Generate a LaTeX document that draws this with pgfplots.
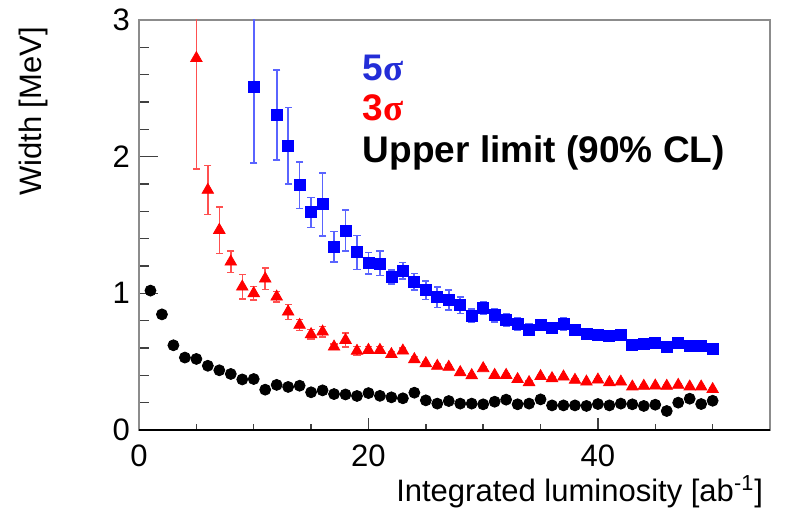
\documentclass[border=0pt]{standalone}
\usepackage{pgfplots}
\pgfplotsset{compat=1.18}
\usepackage{pgfplotstable}
\usepackage{fontspec}
\setmainfont{Liberation Sans}
\newfontfamily\greekfont{Liberation Serif}
\usetikzlibrary{calc}

\definecolor{sigfive}{RGB}{35,45,215}
\definecolor{barblue}{RGB}{90,100,255}
\definecolor{barred}{RGB}{255,80,80}

% 5 sigma discovery width
\pgfplotstableread{
x y ey
10 2.51 0.555
12 2.304 0.33
13 2.08 0.28
14 1.792 0.17
15 1.593 0.11
16 1.651 0.23
17 1.341 0.113
18 1.458 0.15
19 1.30 0.125
20 1.22 0.08
21 1.219 0.09
22 1.119 0.05
23 1.166 0.06
24 1.085 0.06
25 1.022 0.067
26 0.971 0.075
27 0.951 0.072
28 0.912 0.06
29 0.836 0.05
30 0.892 0.045
31 0.839 0.05
32 0.807 0.045
33 0.775 0.045
34 0.734 0.04
35 0.766 0.02
36 0.744 0.02
37 0.775 0.045
38 0.729 0.02
39 0.702 0.015
40 0.695 0.015
41 0.69 0.015
42 0.697 0.015
43 0.622 0.01
44 0.629 0.01
45 0.634 0.01
46 0.609 0.01
47 0.634 0.01
48 0.614 0.01
49 0.614 0.01
50 0.593 0.01
}\fivesigma

% 3 sigma evidence width
\pgfplotstableread{
x y ey
5 2.72 0.81
6 1.756 0.18
7 1.463 0.17
8 1.231 0.08
9 1.048 0.09
10 1.00 0.05
11 1.107 0.08
12 0.975 0.04
13 0.865 0.055
14 0.768 0.04
15 0.70 0.035
16 0.719 0.04
17 0.609 0.02
18 0.658 0.05
19 0.578 0.034
20 0.585 0.025
21 0.585 0.025
22 0.554 0.02
23 0.58 0.02
24 0.517 0.02
25 0.488 0.015
26 0.468 0.015
27 0.461 0.015
28 0.422 0.012
29 0.40 0.012
30 0.451 0.012
31 0.402 0.01
32 0.402 0.01
33 0.371 0.01
34 0.349 0.01
35 0.393 0.01
36 0.378 0.01
37 0.39 0.01
38 0.366 0.01
39 0.353 0.01
40 0.368 0.01
41 0.349 0.01
42 0.353 0.01
43 0.317 0.01
44 0.322 0.01
45 0.324 0.01
46 0.322 0.01
47 0.329 0.01
48 0.317 0.01
49 0.317 0.01
50 0.298 0.01
}\threesigma

% 90% CL upper limit
\pgfplotstableread{
x y
1 1.02
2 0.846
3 0.62
4 0.53
5 0.52
6 0.47
7 0.437
8 0.41
9 0.37
10 0.373
11 0.295
12 0.33
13 0.315
14 0.324
15 0.276
16 0.29
17 0.263
18 0.26
19 0.249
20 0.27
21 0.25
22 0.239
23 0.232
24 0.273
25 0.217
26 0.193
27 0.212
28 0.193
29 0.193
30 0.188
31 0.207
32 0.222
33 0.188
34 0.193
35 0.224
36 0.18
37 0.18
38 0.18
39 0.176
40 0.19
41 0.18
42 0.193
43 0.188
44 0.176
45 0.185
46 0.139
47 0.2
48 0.229
49 0.19
50 0.214
}\upperlimit

\begin{document}
\begin{tikzpicture}
\begin{axis}[
  scale only axis,
  width=315.5pt, height=205pt,
  xmin=0, xmax=55, ymin=0, ymax=3,
  xtick={0,20,40},
  minor xtick={5,10,15,25,30,35,45,50},
  ytick={0,1,2,3},
  minor ytick={0.2,0.4,0.6,0.8,1.2,1.4,1.6,1.8,2.2,2.4,2.6,2.8},
  tick pos=left,
  tick align=inside,
  axis line style={black!45, line width=0.7pt},
  tick style={black!75, line width=0.7pt},
  major tick length=9.5pt, minor tick length=5pt,
  xtick style={/pgfplots/major tick length=6pt, /pgfplots/minor tick length=3pt},
  font=\fontsize{15.5}{18}\selectfont,
  /pgf/number format/assume math mode=true,
  yticklabel style={xshift=-1pt},
  xticklabel style={yshift=-4pt},
  xlabel={Integrated luminosity [ab\textsuperscript{-1}]},
  ylabel={Width [MeV]},
  every axis x label/.style={at={(rel axis cs:1,0)}, anchor=base east, yshift=-35.5pt},
  every axis y label/.style={at={($(rel axis cs:0,1)+(-42pt,0pt)$)}, rotate=90, anchor=south east},
  errcap/.style={only marks, mark=-, mark size=1.8pt, mark options={line width=0.75pt}},
]
\addplot[only marks, mark=*, mark size=2.75pt, black] table[x=x, y=y] {\upperlimit};

% 3 sigma: error bars, caps, then markers
\addplot[draw=none, mark=none, forget plot,
  error bars/.cd, y dir=both, y explicit, error mark=none,
  error bar style={draw=barred, line width=0.75pt}]
  table[x=x, y=y, y error=ey] {\threesigma};
\addplot[errcap, barred, forget plot] table[x=x, y expr=\thisrow{y}+\thisrow{ey}] {\threesigma};
\addplot[errcap, barred, forget plot] table[x=x, y expr=\thisrow{y}-\thisrow{ey}] {\threesigma};
\addplot[only marks, mark=triangle*, mark size=3.3pt, red] table[x=x, y=y] {\threesigma};

% 5 sigma: error bars, caps, then markers
\addplot[draw=none, mark=none, forget plot,
  error bars/.cd, y dir=both, y explicit, error mark=none,
  error bar style={draw=barblue, line width=0.85pt}]
  table[x=x, y=y, y error=ey] {\fivesigma};
\addplot[errcap, barblue, forget plot] table[x=x, y expr=\thisrow{y}+\thisrow{ey}] {\fivesigma};
\addplot[errcap, barblue, forget plot] table[x=x, y expr=\thisrow{y}-\thisrow{ey}] {\fivesigma};
\addplot[only marks, mark=square*, mark size=2.75pt, blue] table[x=x, y=y] {\fivesigma};

\draw[black, line width=0.7pt] (rel axis cs:0,0) -- (rel axis cs:1,0);

\node[anchor=west, text=sigfive, font=\fontsize{18.5}{22}\selectfont\bfseries] at (axis cs:18.9,2.65) {5{\greekfont σ}};
\node[anchor=west, text=red, font=\fontsize{18.5}{22}\selectfont\bfseries] at (axis cs:18.9,2.355) {3{\greekfont σ}};
\node[anchor=west, text=black, font=\fontsize{18.5}{22}\selectfont\bfseries] at (axis cs:18.9,2.026) {Upper limit (90\% CL)};

\coordinate (sw) at (rel axis cs:0,0);
\coordinate (ne) at (rel axis cs:1,1);
\end{axis}
\pgfresetboundingbox
\path[use as bounding box] ($(sw)+(-69.5pt,-38.5pt)$) rectangle ($(ne)+(12pt,10pt)$);
\end{tikzpicture}
\end{document}
